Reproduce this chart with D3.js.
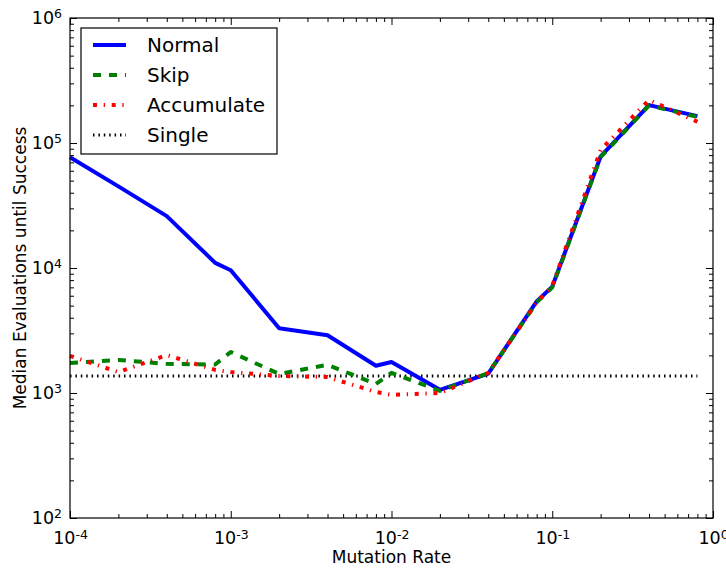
<!DOCTYPE html>
<html>
<head>
<meta charset="utf-8">
<script src="https://cdn.jsdelivr.net/npm/d3@7"></script>
<style>
  body { margin: 0; background: white; }
  text { font-family: "DejaVu Sans", sans-serif; fill: black; }
</style>
</head>
<body>
<div id="chart"></div>
<script>
//Data
var rates = [1e-4, 2e-4, 4e-4, 8e-4, 1e-3, 2e-3, 4e-3, 8e-3, 1e-2, 2e-2, 4e-2, 8e-2, 1e-1, 2e-1, 4e-1, 8e-1];
var normal = [77000, 45000, 26000, 11000, 9600, 3300, 2900, 1650, 1770, 1060, 1430, 5400, 7100, 78000, 201000, 164000];
var skip = [1740, 1840, 1710, 1690, 2130, 1420, 1680, 1180, 1450, 1040, 1440, 5300, 7000, 77000, 200000, 162000];
var accumulate = [1980, 1470, 2010, 1530, 1470, 1370, 1340, 1020, 965, 1000, 1450, 5300, 7200, 88000, 221000, 148000];
var single = [1370, 1370, 1370, 1370, 1370, 1370, 1370, 1370, 1370, 1370, 1370, 1370, 1370, 1370, 1370, 1370];
var seriesNames = ["Normal", "Skip", "Accumulate", "Single"];
var xMajor = [1e-4, 1e-3, 1e-2, 1e-1, 1];
var yMajor = [1e2, 1e3, 1e4, 1e5, 1e6];

//Styles
var colors = ["#0000ff", "#008000", "#ff0000", "#000000"];
var dashes = ["none", "8,8", "4,6.7,1.3,6.7", "1.5,3.9"];
var widths = [4, 4, 4, 3];

var outerWidth = 726, outerHeight = 569;
var margin = {top: 18, right: 13, bottom: 51, left: 70};
var width = outerWidth - margin.left - margin.right,
    height = outerHeight - margin.top - margin.bottom;

var svg = d3.select("#chart").append("svg")
  .attr("width", outerWidth)
  .attr("height", outerHeight);

var inner = svg.append("g")
  .attr("transform", "translate(" + margin.left + "," + margin.top + ")");

var x = d3.scaleLog().domain([1e-4, 1]).range([0, width]);
var y = d3.scaleLog().domain([1e2, 1e6]).range([height, 0]);

//minor ticks 2..9 in each decade
function minors(majors) {
  var out = [];
  for (var i = 0; i < majors.length - 1; i++) {
    for (var k = 2; k < 10; k++) out.push(majors[i] * k);
  }
  return out;
}

function supLabels(sel) {
  sel.selectAll(".tick text").each(function(d) {
    var t = d3.select(this);
    t.text("");
    t.append("tspan").text("10");
    t.append("tspan")
      .attr("dy", "-0.45em")
      .attr("font-size", "12.5px")
      .text(Math.round(Math.log10(d)));
  });
}

function styleAxis(g) {
  g.select(".domain").remove();
  g.selectAll(".tick line").attr("stroke", "black").attr("stroke-width", 1);
  g.selectAll(".tick text").attr("font-size", "17.5px").attr("font-family", "DejaVu Sans");
}

//bottom
inner.append("g")
  .attr("transform", "translate(0," + height + ")")
  .call(d3.axisBottom(x).tickValues(xMajor).tickSize(-7).tickPadding(14))
  .call(styleAxis)
  .call(supLabels);
inner.append("g")
  .attr("transform", "translate(0," + height + ")")
  .call(d3.axisBottom(x).tickValues(minors(xMajor)).tickSize(-4).tickFormat(""))
  .call(styleAxis);
//top
inner.append("g")
  .call(d3.axisTop(x).tickValues(xMajor).tickSize(-7).tickFormat(""))
  .call(styleAxis);
inner.append("g")
  .call(d3.axisTop(x).tickValues(minors(xMajor)).tickSize(-4).tickFormat(""))
  .call(styleAxis);
//left
inner.append("g")
  .call(d3.axisLeft(y).tickValues(yMajor).tickSize(-7).tickPadding(8))
  .call(styleAxis)
  .call(supLabels);
inner.append("g")
  .call(d3.axisLeft(y).tickValues(minors(yMajor)).tickSize(-4).tickFormat(""))
  .call(styleAxis);
//right
inner.append("g")
  .attr("transform", "translate(" + width + ",0)")
  .call(d3.axisRight(y).tickValues(yMajor).tickSize(-7).tickFormat(""))
  .call(styleAxis);
inner.append("g")
  .attr("transform", "translate(" + width + ",0)")
  .call(d3.axisRight(y).tickValues(minors(yMajor)).tickSize(-4).tickFormat(""))
  .call(styleAxis);

//lines
var line = d3.line()
  .x(function(d) { return x(d[0]); })
  .y(function(d) { return y(d[1]); });

var allSeries = [normal, skip, accumulate, single];
var drawOrder = [3, 0, 1, 2];
drawOrder.forEach(function(i) {
  inner.append("path")
    .datum(d3.zip(rates, allSeries[i]))
    .attr("fill", "none")
    .attr("stroke", colors[i])
    .attr("stroke-width", widths[i])
    .attr("stroke-dasharray", dashes[i])
    .attr("stroke-linejoin", "round")
    .attr("d", line);
});

//frame
inner.append("rect")
  .attr("width", width)
  .attr("height", height)
  .attr("fill", "none")
  .attr("stroke", "black")
  .attr("stroke-width", 1.2);

//axis labels
svg.append("text")
  .attr("x", margin.left + width / 2)
  .attr("y", 563)
  .attr("text-anchor", "middle")
  .attr("font-size", "17px")
  .text("Mutation Rate");

svg.append("text")
  .attr("transform", "translate(26," + (margin.top + height / 2) + ") rotate(-90)")
  .attr("text-anchor", "middle")
  .attr("font-size", "17px")
  .text("Median Evaluations until Success");

//legend
var legend = svg.append("g").attr("transform", "translate(81,28)");
legend.append("rect")
  .attr("width", 196)
  .attr("height", 126)
  .attr("fill", "white")
  .attr("stroke", "black")
  .attr("stroke-width", 1.2);

seriesNames.forEach(function(name, i) {
  var ly = 17 + i * 30;
  legend.append("line")
    .attr("x1", 12).attr("x2", 45)
    .attr("y1", ly).attr("y2", ly)
    .attr("stroke", colors[i])
    .attr("stroke-width", widths[i])
    .attr("stroke-dasharray", dashes[i]);
  legend.append("text")
    .attr("x", 66)
    .attr("y", ly)
    .attr("dy", "0.35em")
    .attr("font-size", "20px")
    .text(name);
});
</script>
</body>
</html>
